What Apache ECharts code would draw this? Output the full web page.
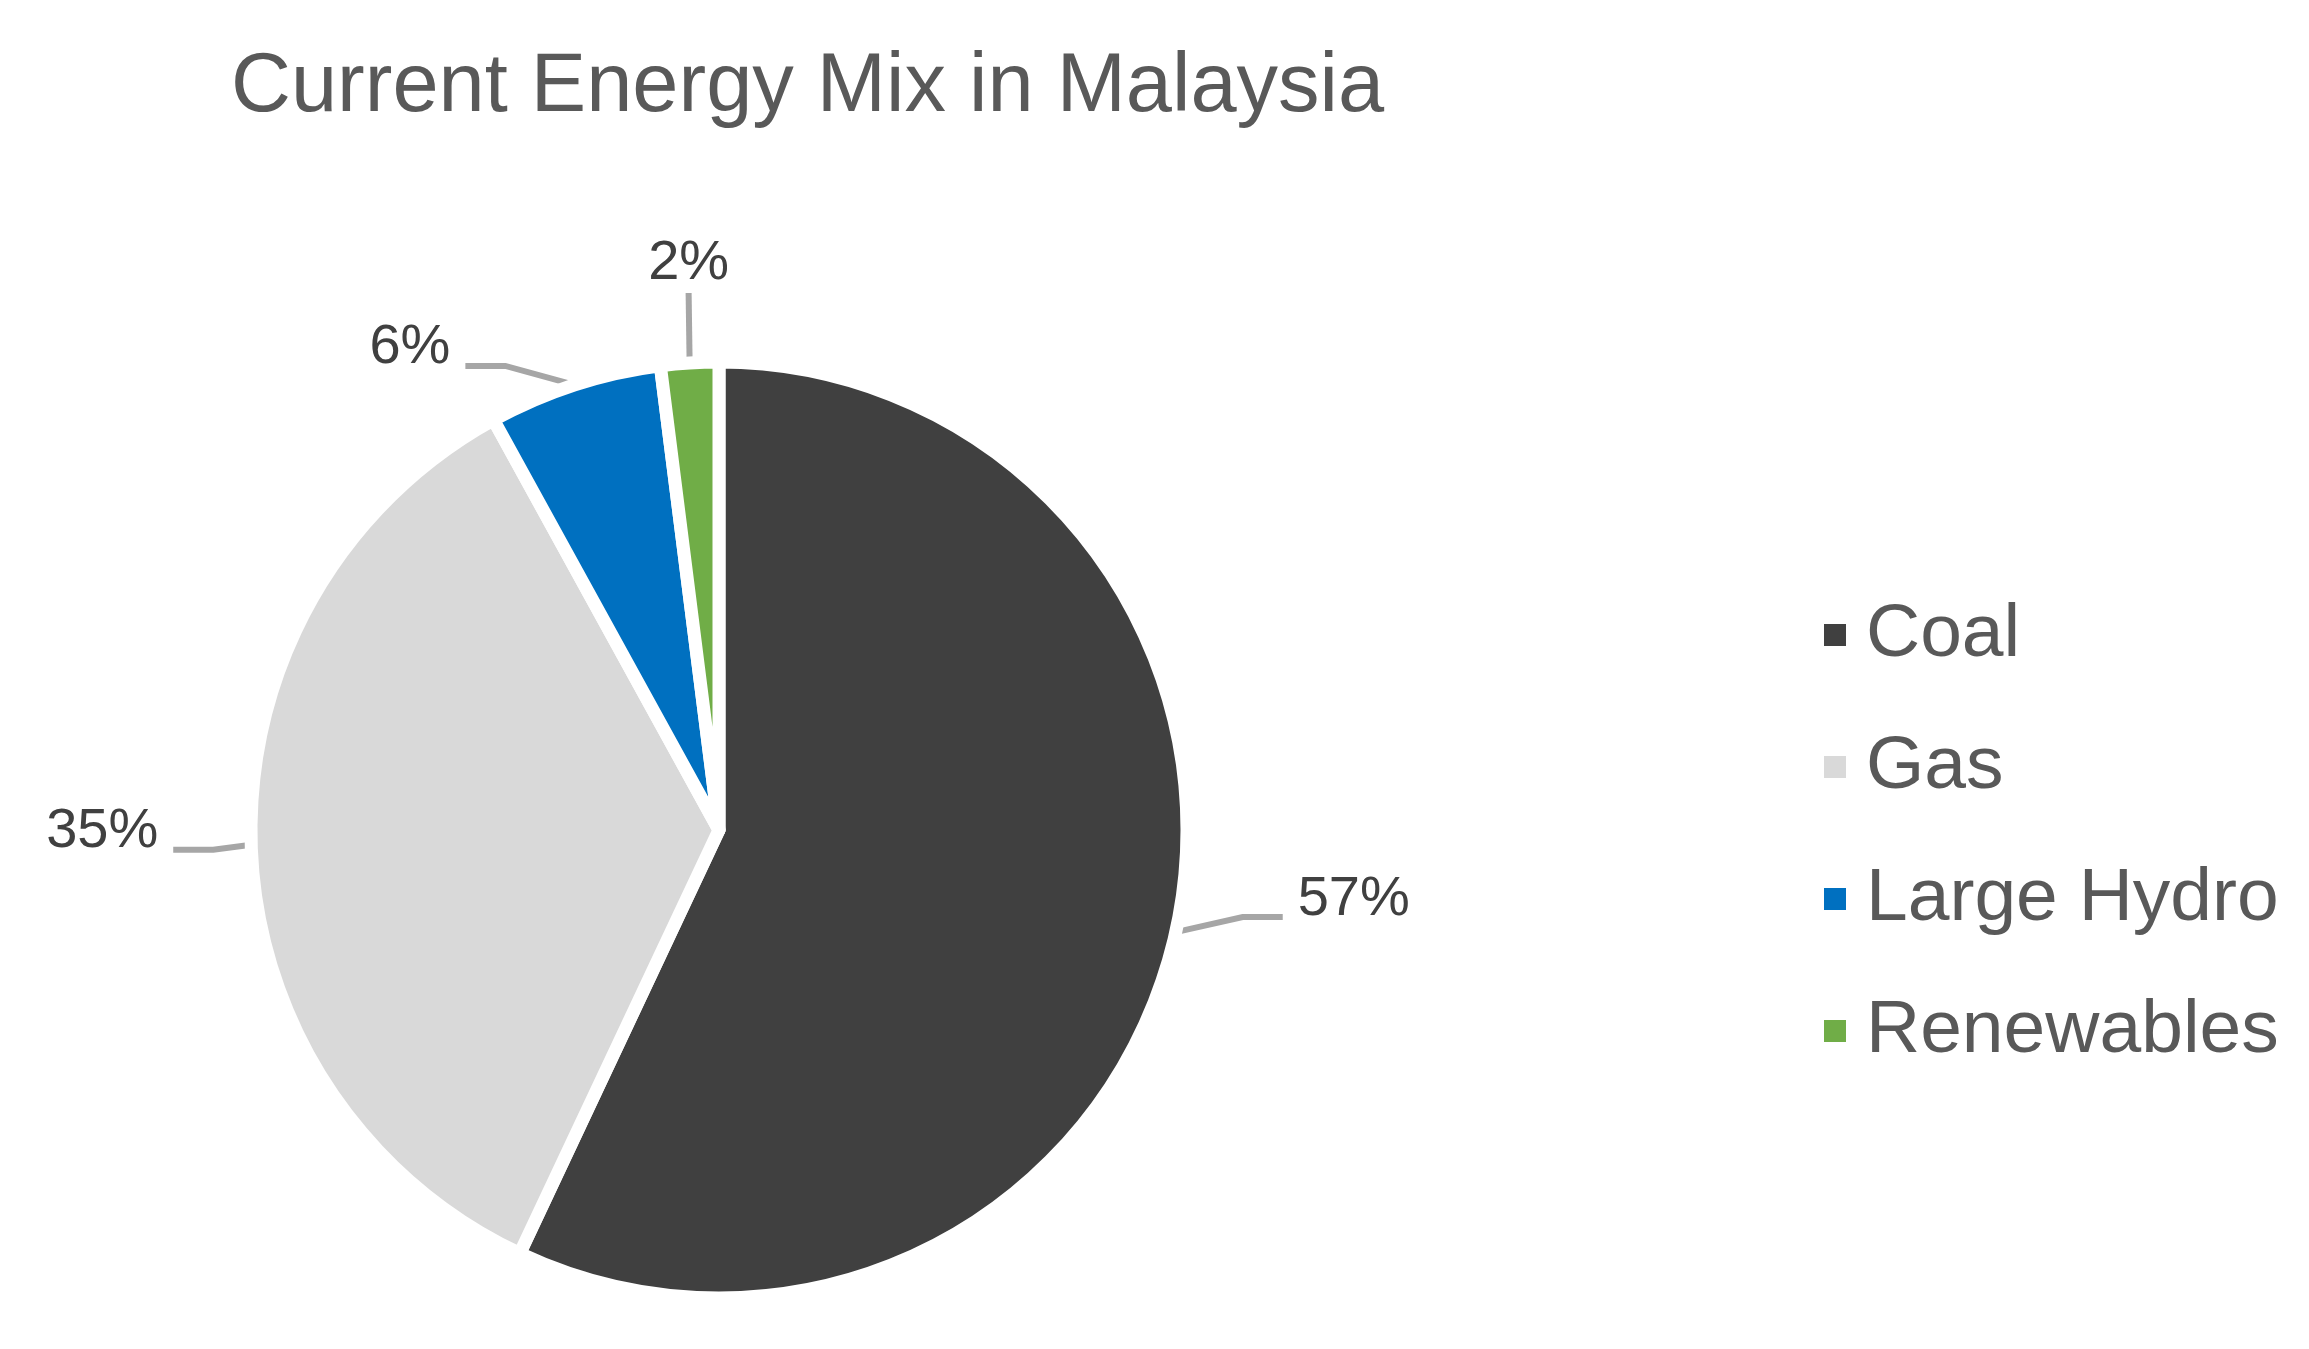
<!DOCTYPE html>
<html>
<head>
<meta charset="utf-8">
<script src="https://cdn.jsdelivr.net/npm/echarts@6/dist/echarts.min.js"></script>
<style>
  html, body { margin: 0; padding: 0; background: #ffffff; }
  #chart { width: 2309px; height: 1349px; }
</style>
</head>
<body>
<div id="chart"></div>
<script>
const titleText = 'Current Energy Mix in Malaysia';
const categories = ['Coal', 'Gas', 'Large Hydro', 'Renewables'];
const shares = [57, 35, 6, 2];
const colors = ['#404040', '#d9d9d9', '#0070c0', '#70ad47'];

// leader-line styling (offset of the elbow from the slice edge, horizontal tail length)
const leaderDx = [67, -38, -69, -1];
const leaderDy = [-15, 5, -19, -70];
const leaderTail = [40, 40, 40, 0];
const labelGap = 15;
const labelRaise = 18;

const FONT = '"Liberation Sans", Arial, Helvetica, sans-serif';

const chart = echarts.init(document.getElementById('chart'), null, { renderer: 'canvas' });

const data = categories.map((name, i) => ({
  name: name,
  value: shares[i],
  itemStyle: { color: colors[i] }
}));

chart.setOption({
  backgroundColor: '#ffffff',
  animation: false,
  title: {
    text: titleText,
    left: 226,
    top: 42,
    textStyle: {
      fontFamily: FONT,
      fontSize: 83,
      lineHeight: 83,
      fontWeight: 'normal',
      color: '#595959'
    }
  },
  legend: {
    orient: 'vertical',
    left: 1817,
    top: 590,
    icon: 'rect',
    itemWidth: 24,
    itemHeight: 24,
    itemGap: 52,
    data: categories,
    textStyle: {
      fontFamily: FONT,
      fontSize: 75,
      lineHeight: 80,
      color: '#595959',
      padding: [0, 0, 0, 14]
    }
  },
  series: [{
    type: 'pie',
    center: [719, 830],
    radius: 468,
    startAngle: 90,
    clockwise: true,
    avoidLabelOverlap: false,
    itemStyle: { borderColor: '#ffffff', borderWidth: 13 },
    label: {
      show: true,
      position: 'outside',
      formatter: '{d}%',
      fontFamily: FONT,
      fontSize: 56,
      color: '#404040'
    },
    labelLine: {
      show: true,
      length: 40,
      length2: 40,
      lineStyle: { color: '#a6a6a6', width: 6 }
    },
    labelLayout: function (p) {
      const pts = p.labelLinePoints;
      if (!pts) return {};
      const i = p.dataIndex;
      const a = pts[0];
      const b = [a[0] + leaderDx[i], a[1] + leaderDy[i]];
      if (leaderTail[i] === 0) {
        return {
          x: b[0],
          y: b[1] - 1,
          align: 'center',
          verticalAlign: 'bottom',
          labelLinePoints: [a, b, b]
        };
      }
      const sign = leaderDx[i] >= 0 ? 1 : -1;
      const c = [b[0] + sign * leaderTail[i], b[1]];
      return {
        x: c[0] + sign * labelGap,
        y: c[1] - labelRaise,
        align: sign > 0 ? 'left' : 'right',
        verticalAlign: 'middle',
        labelLinePoints: [a, b, c]
      };
    },
    emphasis: { disabled: true },
    data: data
  }]
});
</script>
</body>
</html>
